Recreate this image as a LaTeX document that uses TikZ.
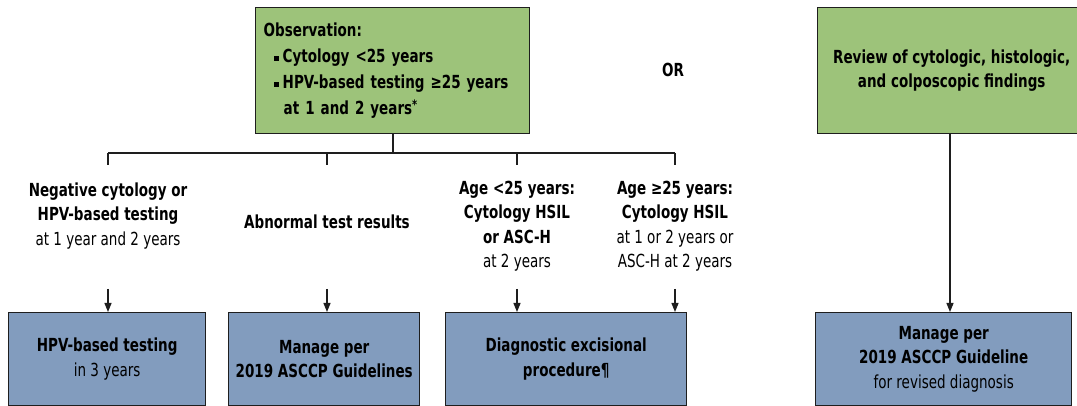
\documentclass[tikz,border=0pt]{standalone}
\usepackage{fontspec}
\setmainfont{DejaVu Sans}[FakeStretch=0.75]
\usetikzlibrary{arrows.meta}
\definecolor{boxgreen}{RGB}{157,195,122}
\definecolor{boxblue}{RGB}{130,156,190}
\definecolor{edge}{RGB}{30,30,30}
\newcommand{\fs}{\fontsize{18}{24.5}\selectfont}
\newcommand{\bul}{\rule[2pt]{5pt}{5pt}\hspace{4pt}}
\begin{document}
\begin{tikzpicture}[x=1pt,y=-1pt,
  box/.style={draw=edge,line width=1.4pt,minimum width=#1,inner sep=0pt,align=center},
  gbox/.style={box=#1,fill=boxgreen},
  bbox/.style={box=#1,fill=boxblue,minimum height=93pt},
  lbl/.style={align=center,inner sep=0pt,font=\fs},
  conn/.style={draw=edge,line width=1.2pt},
  arr/.style={conn,-{Triangle[width=7pt,length=9pt]}}]
\clip (0,0) rectangle (1077,406);
% top green boxes
\node[gbox=274pt,minimum height=126pt,anchor=north west,align=left,inner xsep=8pt,
  font=\fontsize{18}{26}\selectfont\bfseries,text width=258pt] (obs) at (255,7)
  {Observation:\\
   \hspace*{10pt}\bul Cytology <25 years\\
   \hspace*{10pt}\bul HPV-based testing ≥25 years\\
   \hspace*{20pt}at 1 and 2 years\raisebox{5pt}{\fontsize{13}{13}\selectfont*}};
\node[gbox=268pt,minimum height=126pt,anchor=north west,
  font=\fs\bfseries] (rev) at (817,7)
  {Review of cytologic, histologic,\\and colposcopic findings};
\node[lbl,font=\fs\bfseries] (or) at (673,70) {OR};
% branch labels
\node[lbl] (l1) at (108,216) {\textbf{Negative cytology or}\\\textbf{HPV-based testing}\\at 1 year and 2 years};
\node[lbl] (l2) at (327,222) {\textbf{Abnormal test results}};
\node[lbl] (l3) at (517,226) {\textbf{Age <25 years:}\\\textbf{Cytology HSIL}\\\textbf{or ASC-H}\\at 2 years};
\node[lbl] (l4) at (675,226) {\textbf{Age ≥25 years:}\\\textbf{Cytology HSIL}\\at 1 or 2 years or\\ASC-H at 2 years};
% bottom boxes
\node[bbox=197pt,anchor=north west,font=\fs] (b1) at (8,312) {\textbf{HPV-based testing}\\in 3 years};
\node[bbox=191pt,anchor=north west,font=\fs\bfseries] (b2) at (228,312) {Manage per\\2019 ASCCP Guidelines};
\node[bbox=241pt,anchor=north west,font=\fs\bfseries] (b3) at (445,312) {Diagnostic excisional\\procedure¶};
\node[bbox=256pt,anchor=north west,font=\fs] (b4) at (815,312) {\textbf{Manage per}\\\textbf{2019 ASCCP Guideline}\\for revised diagnosis};
% tree connectors
\coordinate (j) at (393,153);
\coordinate (t1) at (108,153);
\coordinate (t2) at (327,153);
\coordinate (t3) at (517,153);
\coordinate (t4) at (675,153);
\draw[conn] (obs.south -| j) -- (j);
\draw[conn] (t1) -- (t4);
\foreach \t in {t1,t2,t3,t4} \draw[conn] (\t) -- ++(0,12);
% short arrows
\coordinate (a1) at (108,289);
\coordinate (a2) at (327,289);
\coordinate (a3) at (517,289);
\coordinate (a4) at (675,289);
\draw[arr] (a1) -- (a1 |- b1.north);
\draw[arr] (a2) -- (a2 |- b2.north);
\draw[arr] (a3) -- (a3 |- b3.north);
\draw[arr] (a4) -- (a4 |- b3.north);
\coordinate (r) at (950,0);
\draw[arr] (r |- rev.south) -- (r |- b4.north);
\end{tikzpicture}
\end{document}
